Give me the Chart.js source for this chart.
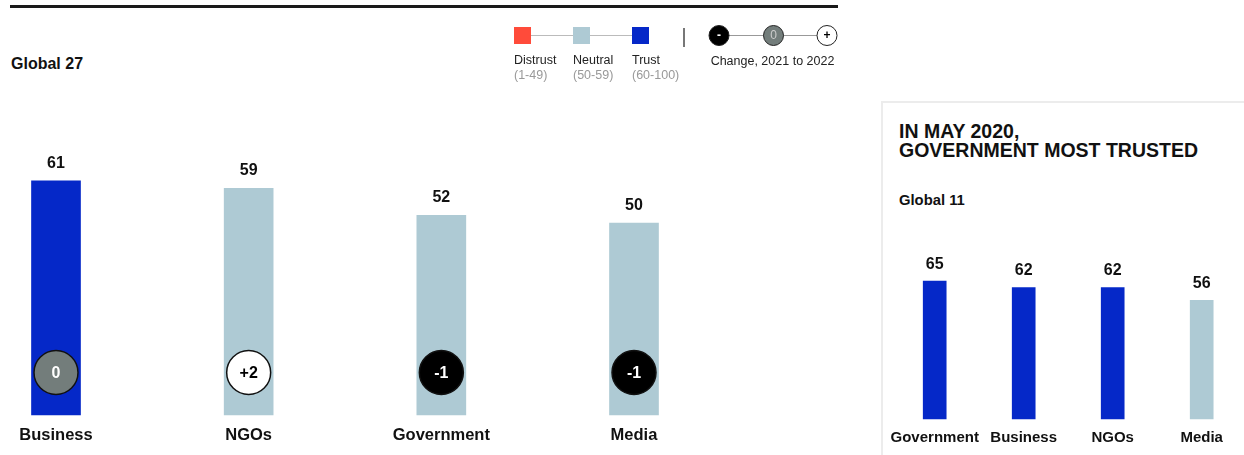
<!DOCTYPE html>
<html>
<head>
<meta charset="utf-8">
<script src="https://cdn.jsdelivr.net/npm/chart.js@4/dist/chart.umd.min.js"></script>
<style>
  body { margin: 0; background: #fff; font-family: "Liberation Sans", Arial, sans-serif; color: #111; }
  #page { position: relative; width: 1244px; height: 455px; overflow: hidden; }
  .abs { position: absolute; }
  #topRule { left: 10px; top: 5px; width: 828px; height: 3px; background: #1a1a1a; }
  #title27 { left: 11px; top: 55px; font-weight: bold; font-size: 16px; }
  #panel { left: 881px; top: 101px; width: 380px; height: 380px; border: 2px solid #ececec; box-sizing: border-box; }
  #panelTitle { left: 899px; top: 122px; font-weight: bold; font-size: 19.5px; line-height: 18.5px; }
  #title11 { left: 899px; top: 192px; font-weight: bold; font-size: 14.8px; }
  #legend { left: 0; top: 0; }
</style>
</head>
<body>
<div id="page">
  <div id="topRule" class="abs"></div>
  <div id="title27" class="abs">Global 27</div>
  <div id="panel" class="abs"></div>
  <div id="panelTitle" class="abs">IN MAY 2020,<br>GOVERNMENT MOST TRUSTED</div>
  <div id="title11" class="abs">Global 11</div>
  <canvas id="legend" class="abs" width="880" height="95"></canvas>
  <div class="abs" style="left:0;top:0;width:770px;height:455px"><canvas id="chart2022"></canvas></div>
  <div class="abs" style="left:870px;top:0;width:374px;height:455px"><canvas id="chart2020"></canvas></div>
</div>
<script>
// Global 27 (2022)
const labels2022 = ['Business', 'NGOs', 'Government', 'Media'];
const trust2022 = [61, 59, 52, 50];
const change2022 = [0, 2, -1, -1];

// Global 11 (May 2020)
const labels2020 = ['Government', 'Business', 'NGOs', 'Media'];
const trust2020 = [65, 62, 62, 56];

const FONT = '"Liberation Sans", Arial, sans-serif';
const DISTRUST = '#ff4b3a';
const NEUTRAL = '#aecad4';
const TRUST = '#0528c8';
const GREY = '#737d7b';

const trustColor = v => v >= 60 ? TRUST : (v >= 50 ? NEUTRAL : DISTRUST);

// value labels above bars, and change circles for the 2022 chart
const barLabels = {
  id: 'barLabels',
  afterDatasetsDraw(chart, args, opts) {
    const c = chart.ctx;
    const meta = chart.getDatasetMeta(0);
    const data = chart.data.datasets[0].data;
    c.save();
    c.textAlign = 'center';
    c.textBaseline = 'middle';
    meta.data.forEach((bar, i) => {
      c.fillStyle = '#111';
      c.font = 'bold ' + opts.size + 'px ' + FONT;
      c.fillText(data[i], bar.x, bar.y - opts.gap);

      if (opts.changes) {
        const d = opts.changes[i];
        const cy = chart.chartArea.bottom - 42.5;
        c.beginPath();
        c.arc(bar.x, cy, 22, 0, Math.PI * 2);
        c.fillStyle = d > 0 ? '#fff' : (d < 0 ? '#000' : GREY);
        c.fill();
        c.lineWidth = 1.5;
        c.strokeStyle = '#111';
        c.stroke();
        c.fillStyle = d > 0 ? '#000' : '#fff';
        c.font = 'bold 16px ' + FONT;
        c.fillText(d > 0 ? '+' + d : String(d), bar.x, cy + 1);
      }
    });
    c.restore();
  }
};

function makeChart(id, labels, values, cfg) {
  return new Chart(document.getElementById(id), {
    type: 'bar',
    data: {
      labels,
      datasets: [{
        data: values,
        backgroundColor: values.map(trustColor),
        barThickness: cfg.barWidth,
        clip: false
      }]
    },
    options: {
      responsive: true,
      maintainAspectRatio: false,
      animation: false,
      layout: { padding: { left: cfg.padLeft, right: cfg.padRight, top: cfg.padTop, bottom: 0 } },
      plugins: {
        legend: { display: false },
        tooltip: { enabled: false },
        barLabels: { size: cfg.valueSize, gap: cfg.gap, changes: cfg.changes }
      },
      scales: {
        x: {
          offset: false,
          grid: { display: false, drawTicks: false },
          border: { display: false },
          ticks: { color: '#111', padding: cfg.tickPad, maxRotation: 0, autoSkip: false,
                   font: { family: FONT, weight: 'bold', size: cfg.labelSize } },
          afterFit: s => { s.height = cfg.axisHeight; }
        },
        y: { display: false, min: 0, max: 100 }
      }
    },
    plugins: [barLabels]
  });
}

// left chart: bars centred at 56..634, zero line at y=415, 3.84 px per point
makeChart('chart2022', labels2022, trust2022, {
  barWidth: 49, padLeft: 56, padRight: 770 - 634, padTop: 31,
  axisHeight: 40, tickPad: 11, labelSize: 16.5, valueSize: 16, gap: 17.5, changes: change2022
});

// right chart: bars centred at 934.7..1201.7, zero line at y=419, 2.12 px per point
makeChart('chart2020', labels2020, trust2020, {
  barWidth: 23, padLeft: 64.7, padRight: 374 - 331.7, padTop: 207,
  axisHeight: 36, tickPad: 10, labelSize: 15, valueSize: 16, gap: 16.5, changes: null
});

// legend strip
(function drawLegend() {
  const c = document.getElementById('legend').getContext('2d');
  const keys = [
    { name: 'Distrust', range: '(1-49)', color: DISTRUST, x: 514 },
    { name: 'Neutral', range: '(50-59)', color: NEUTRAL, x: 573 },
    { name: 'Trust', range: '(60-100)', color: TRUST, x: 632 }
  ];
  c.strokeStyle = '#bbb';
  c.lineWidth = 1;
  c.beginPath(); c.moveTo(522, 35.5); c.lineTo(640, 35.5); c.stroke();
  c.textBaseline = 'middle';
  keys.forEach(k => {
    c.fillStyle = k.color;
    c.fillRect(k.x, 27, 17, 17);
    c.font = '12.5px ' + FONT;
    c.fillStyle = '#222';
    c.fillText(k.name, k.x, 61);
    c.fillStyle = '#999';
    c.fillText(k.range, k.x, 76);
  });
  c.fillStyle = '#777';
  c.fillRect(683, 28, 2, 19);

  c.strokeStyle = '#999';
  c.beginPath(); c.moveTo(719, 35.5); c.lineTo(827, 35.5); c.stroke();
  const dots = [
    { x: 719, fill: '#000', text: '-', tc: '#fff' },
    { x: 773.5, fill: GREY, text: '0', tc: '#ccc' },
    { x: 827, fill: '#fff', text: '+', tc: '#000' }
  ];
  c.textAlign = 'center';
  dots.forEach(d => {
    c.beginPath();
    c.arc(d.x, 35.5, 10, 0, Math.PI * 2);
    c.fillStyle = d.fill; c.fill();
    c.lineWidth = 1; c.strokeStyle = '#222'; c.stroke();
    c.fillStyle = d.tc;
    c.font = (d.text === '0' ? '' : 'bold ') + '12px ' + FONT;
    c.fillText(d.text, d.x, 36);
  });
  c.font = '12.5px ' + FONT;
  c.fillStyle = '#222';
  c.fillText('Change, 2021 to 2022', 772.5, 62);
})();
</script>
</body>
</html>
